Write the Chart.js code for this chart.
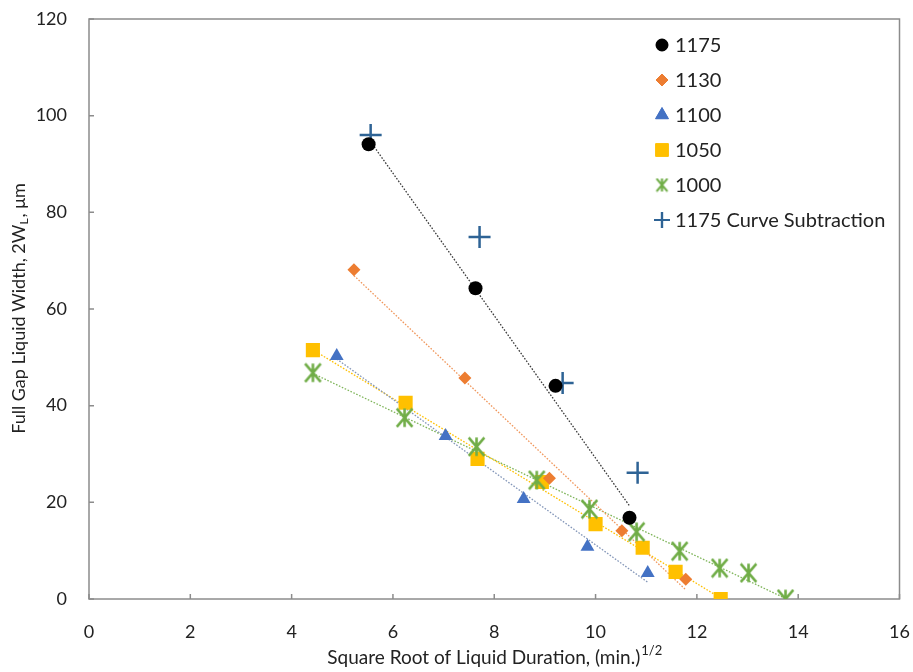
<!DOCTYPE html>
<html>
<head>
<meta charset="utf-8">
<script src="https://cdn.jsdelivr.net/npm/chart.js@4"></script>
<style>
  html, body { margin: 0; padding: 0; background: #fff; }
</style>
</head>
<body>
<canvas id="chart" width="913" height="672"></canvas>
<script>
// data
const seriesNames = ['1175', '1130', '1100', '1050', '1000', '1175 Curve Subtraction'];

const x1175 = [5.52, 7.63, 9.21, 10.67];
const y1175 = [94.1, 64.3, 44.1, 16.8];

const x1130 = [5.23, 7.42, 9.09, 10.52, 11.78];
const y1130 = [68.1, 45.7, 25.0, 14.1, 4.1];

const x1100 = [4.89, 7.04, 8.58, 9.84, 11.03];
const y1100 = [50.3, 33.7, 20.7, 10.8, 5.4];

const x1050 = [4.42, 6.25, 7.67, 8.94, 10.0, 10.93, 11.58, 12.47];
const y1050 = [51.5, 40.6, 29.0, 24.2, 15.5, 10.6, 5.6, 0];

const x1000 = [4.42, 6.23, 7.65, 8.84, 9.88, 10.81, 11.66, 12.45, 13.02, 13.75];
const y1000 = [46.8, 37.5, 31.5, 24.6, 18.6, 13.9, 9.9, 6.4, 5.4, 0];

const xSub = [5.56, 7.71, 9.35, 10.83];
const ySub = [96.0, 74.9, 44.7, 26.1];

const xTicks = [0, 2, 4, 6, 8, 10, 12, 14, 16];
const yTicks = [0, 20, 40, 60, 80, 100, 120];

const FONT = 'Lato, "Open Sans", sans-serif';
const TEXT = '#222';

function pts(xs, ys) {
    return xs.map((v, i) => ({ x: v, y: ys[i] }));
}

// Excel-style linear trendline across the series' x range
function trend(xs, ys) {
    const n = xs.length;
    const mx = xs.reduce((a, b) => a + b, 0) / n;
    const my = ys.reduce((a, b) => a + b, 0) / n;
    let sxy = 0, sxx = 0;
    for (let i = 0; i < n; i++) {
        sxy += (xs[i] - mx) * (ys[i] - my);
        sxx += (xs[i] - mx) * (xs[i] - mx);
    }
    const k = sxy / sxx;
    const x0 = Math.min(...xs), x1 = Math.max(...xs);
    return [{ x: x0, y: my + k * (x0 - mx) }, { x: x1, y: my + k * (x1 - mx) }];
}

function makeStar(size, color, lw) {
    const c = document.createElement('canvas');
    c.width = c.height = size;
    const g = c.getContext('2d');
    const h = size / 2, r = size / 2 - lw / 2;
    g.strokeStyle = color;
    g.lineWidth = lw;
    g.beginPath();
    g.moveTo(h - r * 0.85, h - r); g.lineTo(h + r * 0.85, h + r);
    g.moveTo(h + r * 0.85, h - r); g.lineTo(h - r * 0.85, h + r);
    g.moveTo(h, h - r); g.lineTo(h, h + r);
    g.stroke();
    return c;
}

const colors = ['#000000', '#ED7D31', '#4472C4', '#FFC000', '#70AD47', '#2E6395'];
const trendColors = ['#3a3a3a', '#F0975C', '#8396b8', '#FFC000', '#7fb55a'];
const starBig = makeStar(21, colors[4], 2.6);
const starSmall = makeStar(15, colors[4], 2.2);

const markers = [
    { style: 'circle', radius: 7, legendRadius: 6 },
    { style: 'rectRot', radius: 6.5, legendRadius: 6 },
    { style: 'triangle', radius: 8, legendRadius: 7.5 },
    { style: 'rect', radius: 10, legendRadius: 9 },
    { style: starBig, radius: 10, legendStyle: starSmall, legendRadius: 7 },
    { style: 'cross', radius: 11, legendRadius: 8 }
];

const xs = [x1175, x1130, x1100, x1050, x1000, xSub];
const ys = [y1175, y1130, y1100, y1050, y1000, ySub];
const drawOrder = [1, 2, 5, 4, 3, 6];

const datasets = [];
xs.forEach((xv, i) => {
    const m = markers[i];
    datasets.push({
        label: seriesNames[i],
        data: pts(xv, ys[i]),
        pointStyle: m.style,
        pointRadius: m.radius,
        backgroundColor: colors[i],
        borderColor: colors[i],
        pointBorderWidth: i === 5 ? 2.5 : 0,
        showLine: false,
        order: drawOrder[i]
    });
});
xs.slice(0, 5).forEach((xv, i) => {
    datasets.push({
        label: seriesNames[i] + ' trend',
        data: trend(xv, ys[i]),
        showLine: true,
        pointRadius: 0,
        borderColor: trendColors[i],
        borderWidth: 1.3,
        borderDash: [1.6, 1.6],
        order: 20 + i
    });
});

const decor = {
    id: 'decor',
    beforeDatasetsDraw(chart) {
        const { ctx, chartArea: a, scales } = chart;
        ctx.save();
        ctx.strokeStyle = '#8c8c8c';
        ctx.lineWidth = 1.5;
        ctx.strokeRect(a.left, a.top, a.right - a.left, a.bottom - a.top);
        ctx.beginPath();
        xTicks.forEach(v => {
            const px = scales.x.getPixelForValue(v);
            ctx.moveTo(px, a.bottom);
            ctx.lineTo(px, a.bottom - 5);
        });
        yTicks.forEach(v => {
            const py = scales.y.getPixelForValue(v);
            ctx.moveTo(a.left, py);
            ctx.lineTo(a.left + 5, py);
        });
        ctx.stroke();
        ctx.restore();
    },
    afterDraw(chart) {
        const { ctx, chartArea: a } = chart;
        ctx.save();
        ctx.fillStyle = TEXT;
        ctx.textBaseline = 'middle';

        // x axis title with superscript
        const xMain = 'Square Root of Liquid Duration, (min.)';
        const xSup = '1/2';
        ctx.font = '19px ' + FONT;
        const wMain = ctx.measureText(xMain).width;
        ctx.font = '13px ' + FONT;
        const wSup = ctx.measureText(xSup).width;
        let sx = (a.left + a.right) / 2 - (wMain + wSup) / 2;
        ctx.textAlign = 'left';
        ctx.font = '19px ' + FONT;
        ctx.fillText(xMain, sx, 658);
        ctx.font = '13px ' + FONT;
        ctx.fillText(xSup, sx + wMain + 1, 651);

        // y axis title with subscript
        const yA = 'Full Gap Liquid Width, 2W', ySub = 'L', yB = ', \u03BCm';
        ctx.font = '18px ' + FONT;
        const wA = ctx.measureText(yA).width, wB = ctx.measureText(yB).width;
        ctx.font = '12px ' + FONT;
        const wS = ctx.measureText(ySub).width;
        ctx.translate(19, (a.top + a.bottom) / 2);
        ctx.rotate(-Math.PI / 2);
        let ty = -(wA + wS + wB) / 2;
        ctx.font = '18px ' + FONT;
        ctx.fillText(yA, ty, 0);
        ctx.font = '12px ' + FONT;
        ctx.fillText(ySub, ty + wA, 5);
        ctx.font = '18px ' + FONT;
        ctx.fillText(yB, ty + wA + wS + 1, 0);
        ctx.restore();

        // legend inside the plot area
        ctx.save();
        ctx.font = '20px ' + FONT;
        ctx.textAlign = 'left';
        ctx.textBaseline = 'middle';
        seriesNames.forEach((name, i) => {
            const m = markers[i];
            const cy = 45 + i * 35;
            ctx.fillStyle = colors[i];
            ctx.strokeStyle = colors[i];
            ctx.lineWidth = i === 5 ? 2.2 : 0;
            Chart.helpers.drawPoint(ctx, {
                pointStyle: m.legendStyle || m.style,
                radius: m.legendRadius,
                rotation: 0,
                borderWidth: ctx.lineWidth
            }, 662, cy);
            if (i !== 5 && i !== 4) ctx.fill();
            if (i === 5) ctx.stroke();
            ctx.fillStyle = TEXT;
            ctx.fillText(name, 675, cy + 1);
        });
        ctx.restore();
    }
};

function noPad(s) {
    s.paddingLeft = 0;
    s.paddingRight = 0;
    s.paddingTop = 0;
    s.paddingBottom = 0;
}

new Chart(document.getElementById('chart').getContext('2d'), {
    type: 'scatter',
    data: { datasets: datasets },
    options: {
        responsive: false,
        animation: false,
        layout: { padding: { top: 19, right: 13, left: 0, bottom: 0 } },
        plugins: {
            legend: { display: false },
            tooltip: { enabled: false }
        },
        scales: {
            x: {
                type: 'linear',
                min: 0,
                max: 16,
                afterBuildTicks: s => { s.ticks = xTicks.map(v => ({ value: v })); },
                afterFit: s => { s.height = 73; noPad(s); },
                ticks: { font: { family: FONT, size: 18 }, color: TEXT, padding: 22 },
                grid: { display: false, drawTicks: false },
                border: { display: false }
            },
            y: {
                type: 'linear',
                min: 0,
                max: 120,
                afterBuildTicks: s => { s.ticks = yTicks.map(v => ({ value: v })); },
                afterFit: s => { s.width = 89; noPad(s); },
                ticks: { font: { family: FONT, size: 18 }, color: TEXT, padding: 22 },
                grid: { display: false, drawTicks: false },
                border: { display: false }
            }
        }
    },
    plugins: [decor]
});
</script>
</body>
</html>
